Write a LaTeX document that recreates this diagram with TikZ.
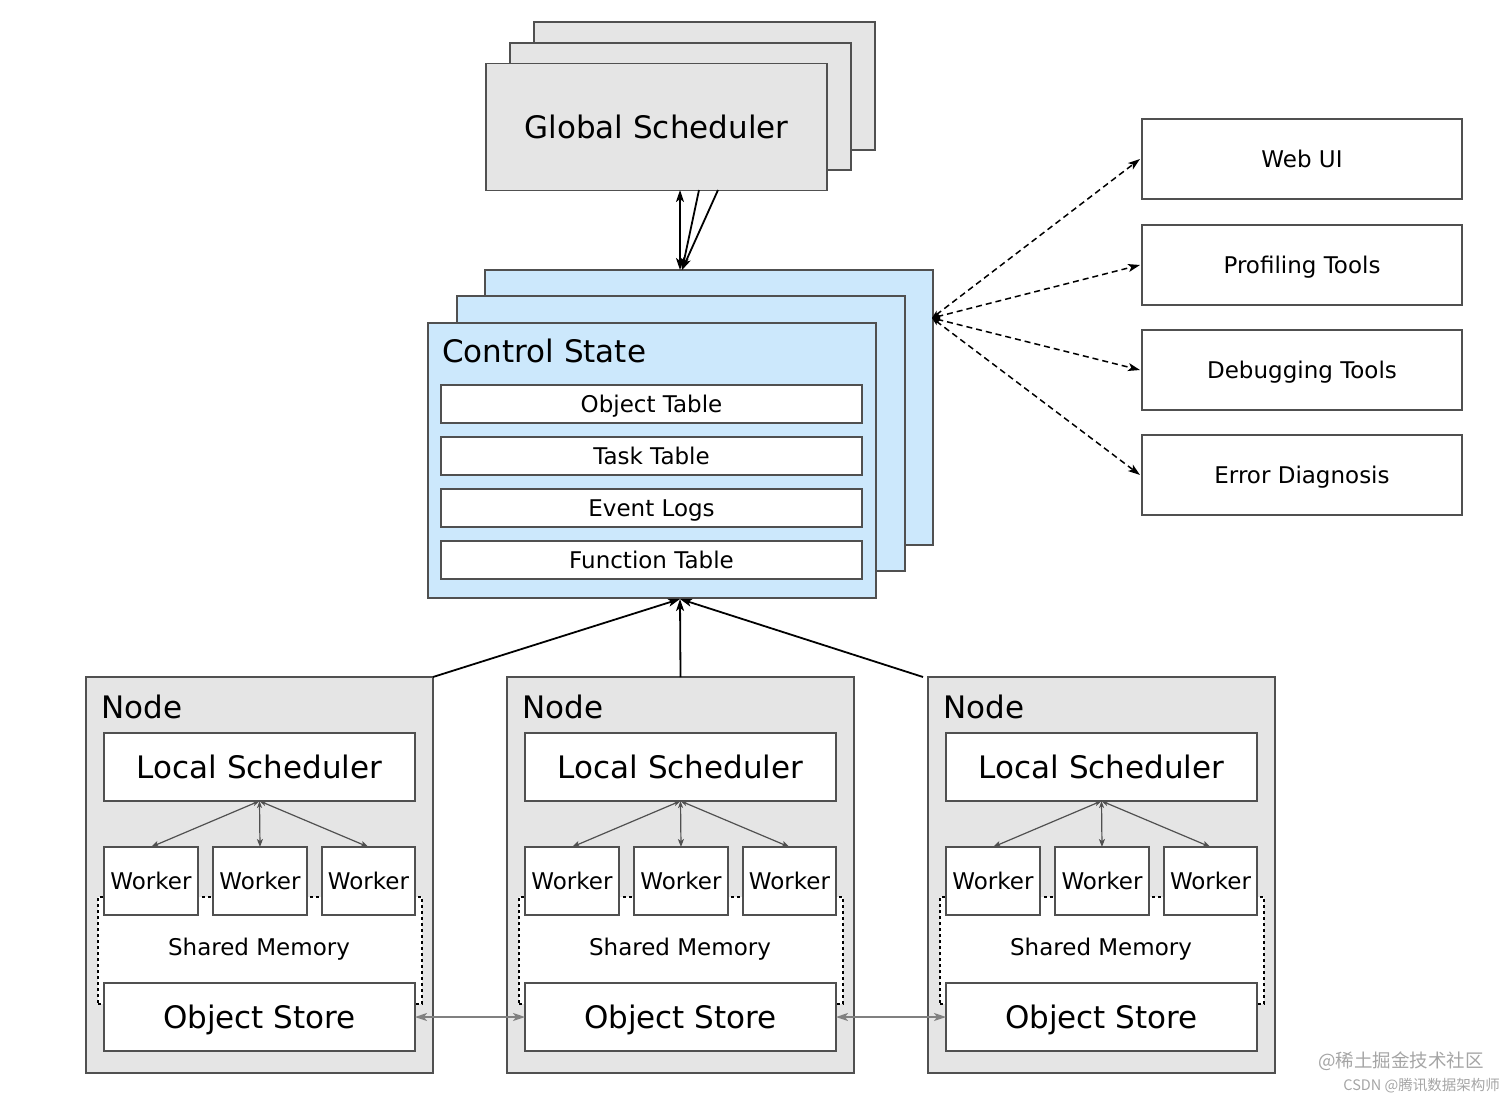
\documentclass[tikz,border=0pt]{standalone}
\usepackage{fontspec}
\setmainfont{DejaVu Sans}
\newfontfamily\cjk{Noto Sans CJK SC}
\usetikzlibrary{arrows.meta}
\definecolor{boxgray}{RGB}{229,229,229}
\definecolor{csblue}{RGB}{204,232,252}
\definecolor{edgec}{RGB}{80,80,80}
\definecolor{wmark}{RGB}{165,165,165}
\begin{document}
\begin{tikzpicture}[x=1pt,y=-1pt,
  box/.style={draw=edgec, line width=1.4pt, rectangle, inner sep=0pt, outer sep=0pt},
  graybox/.style={box, fill=boxgray},
  bluebox/.style={box, fill=csblue},
  whitebox/.style={box, fill=white},
  bigtxt/.style={font=\fontsize{31}{31}\selectfont, text height=22.6pt, text depth=0pt},
  smalltxt/.style={font=\fontsize{23}{23}\selectfont, text height=16.8pt, text depth=0pt},
  mainarrow/.style={line width=1.8pt, -{Stealth[length=12pt,width=8pt,inset=3pt]}},
  bothmain/.style={line width=1.8pt, {Stealth[length=12pt,width=8pt,inset=3pt]}-{Stealth[length=12pt,width=8pt,inset=3pt]}},
  toolarrow/.style={line width=1.5pt, dash pattern=on 6pt off 4pt, {Stealth[length=8pt,width=6pt,inset=2pt]}-{Stealth[length=12pt,width=8pt,inset=3pt]}},
  lsarrow/.style={draw=edgec, line width=1.2pt, {Stealth[length=7pt,width=5pt,inset=2pt]}-{Stealth[length=8pt,width=6pt,inset=2pt]}},
  osarrow/.style={draw=gray, line width=1.6pt, {Stealth[length=12pt,width=8pt,inset=3pt]}-{Stealth[length=12pt,width=8pt,inset=3pt]}},
  shmem/.style={draw=black, line width=1.4pt, dash pattern=on 3pt off 3pt, fill=white}
]
\useasboundingbox (0,0) rectangle (1512,1100);

% Global Scheduler stack
\node[graybox, minimum width=341pt, minimum height=128pt] (gsb) at (704.5,86) {};
\node[graybox, minimum width=341pt, minimum height=127pt] (gsm) at (680.5,106.5) {};
\node[graybox, minimum width=341pt, minimum height=127pt, bigtxt] (gs) at (656.5,127) {Global Scheduler};

% Control State stack
\node[bluebox, minimum width=448pt, minimum height=275pt] (csb) at (709,407.5) {};
\node[bluebox, minimum width=448pt, minimum height=275pt] (csm) at (681,433.5) {};
\node[bluebox, minimum width=448pt, minimum height=275pt] (cs) at (652,460.5) {};
\node[anchor=west, inner sep=0pt, bigtxt] (cstitle) at (442,351) {Control State};
\node[whitebox, minimum width=421pt, minimum height=38pt, smalltxt] (ot) at (651.5,404) {Object Table};
\node[whitebox, minimum width=421pt, minimum height=38pt, smalltxt] (tt) at (651.5,456) {Task Table};
\node[whitebox, minimum width=421pt, minimum height=38pt, smalltxt] (el) at (651.5,508) {Event Logs};
\node[whitebox, minimum width=421pt, minimum height=38pt, smalltxt] (ft) at (651.5,560) {Function Table};

\coordinate (csin) at (680,599);
\coordinate (cstop) at (682,270);
\coordinate (tl) at (932,318);

% GS <-> CS
\draw[bothmain] (680,190) -- (680,270);
\draw[mainarrow] (699,190) -- (cstop);
\draw[mainarrow] (718,190) -- (cstop);

% Tools
\node[whitebox, minimum width=320pt, minimum height=80pt, smalltxt] (web) at (1302,159) {Web UI};
\node[whitebox, minimum width=320pt, minimum height=80pt, smalltxt] (prof) at (1302,265) {Profiling Tools};
\node[whitebox, minimum width=320pt, minimum height=80pt, smalltxt] (dbg) at (1302,370) {Debugging Tools};
\node[whitebox, minimum width=320pt, minimum height=80pt, smalltxt] (err) at (1302,475) {Error Diagnosis};
\draw[toolarrow] (tl) -- ([xshift=-2pt]web.west);
\draw[toolarrow] (tl) -- ([xshift=-2pt]prof.west);
\draw[toolarrow] (tl) -- ([xshift=-2pt]dbg.west);
\draw[toolarrow] (tl) -- ([xshift=-2pt]err.west);

% Nodes
\foreach \i/\dx in {1/0,2/421,3/842}{
  \begin{scope}[xshift=\dx pt]
  \node[graybox, minimum width=347pt, minimum height=396pt] (n\i) at (259.5,875) {};
  \node[anchor=west, inner sep=0pt, bigtxt] (nl\i) at (101,707) {Node};
  \node[whitebox, minimum width=311pt, minimum height=68pt, bigtxt] (ls\i) at (259.5,767) {Local Scheduler};
  \node[shmem, minimum width=324pt, minimum height=107pt, inner sep=0pt] (sm\i) at (260,950.5) {};
  \node[inner sep=0pt, smalltxt] (smt\i) at (259,947) {Shared Memory};
  \node[whitebox, minimum width=94pt, minimum height=68pt, smalltxt] (wa\i) at (151,881) {Worker};
  \node[whitebox, minimum width=94pt, minimum height=68pt, smalltxt] (wb\i) at (260,881) {Worker};
  \node[whitebox, minimum width=93pt, minimum height=68pt, smalltxt] (wc\i) at (368.5,881) {Worker};
  \node[whitebox, minimum width=311pt, minimum height=68pt, bigtxt] (os\i) at (259.5,1017) {Object Store};
  \draw[lsarrow] (ls\i.south) -- (wa\i.north);
  \draw[lsarrow] (ls\i.south) -- (wb\i.north);
  \draw[lsarrow] (ls\i.south) -- (wc\i.north);
  \end{scope}
}

% Nodes -> Control State
\draw[mainarrow] (n1.north east) -- (csin);
\draw[mainarrow] (n2.north) -- (csin);
\draw[mainarrow] ([xshift=-5pt]n3.north west) -- (csin);

% Object store links
\draw[osarrow] (os1.east) -- (os2.west);
\draw[osarrow] (os2.east) -- (os3.west);

% Watermark
\node[anchor=east, inner sep=0pt, text=wmark, font=\cjk\fontsize{18.5}{18.5}\selectfont] (wm1) at (1484,1061) {@稀土掘金技术社区};
\node[anchor=east, inner sep=0pt, text=wmark, font=\cjk\fontsize{14.5}{14.5}\selectfont] (wm2) at (1500,1086) {CSDN @腾讯数据架构师};
\end{tikzpicture}
\end{document}
